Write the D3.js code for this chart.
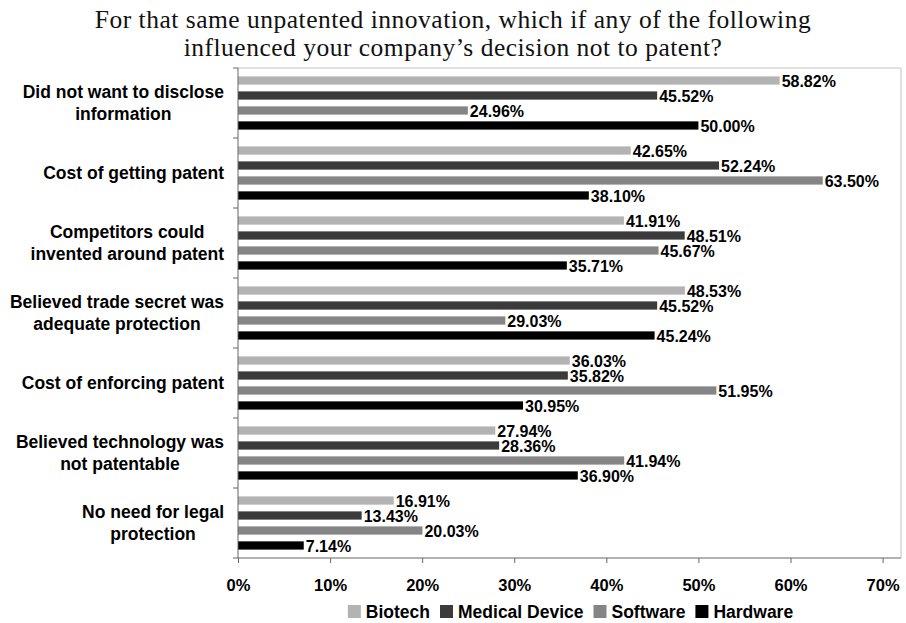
<!DOCTYPE html>
<html>
<head>
<meta charset="utf-8">
<script src="https://cdn.jsdelivr.net/npm/d3@7"></script>
<style>
  body { margin: 0; background: #fff; }
  svg { display: block; }
</style>
</head>
<body>
<svg id="chart" width="906" height="623"></svg>
<script>
// survey answers, % of respondents per industry
var categories = [
  "Did not want to disclose information",
  "Cost of getting patent",
  "Competitors could invented around patent",
  "Believed trade secret was adequate protection",
  "Cost of enforcing patent",
  "Believed technology was not patentable",
  "No need for legal protection"
];
var categoryLines = [
  ["Did not want to disclose", "information"],
  ["Cost of getting patent"],
  ["Competitors could", "invented around patent"],
  ["Believed trade secret was", "adequate protection"],
  ["Cost of enforcing patent"],
  ["Believed technology was", "not patentable"],
  ["No need for legal", "protection"]
];
var seriesNames = ["Biotech", "Medical Device", "Software", "Hardware"];
var biotech  = [58.82, 42.65, 41.91, 48.53, 36.03, 27.94, 16.91];
var medical  = [45.52, 52.24, 48.51, 45.52, 35.82, 28.36, 13.43];
var software = [24.96, 63.50, 45.67, 29.03, 51.95, 41.94, 20.03];
var hardware = [50.00, 38.10, 35.71, 45.24, 30.95, 36.90, 7.14];
var xTicks = [0, 10, 20, 30, 40, 50, 60, 70];
var titleLines = [
  "For that same unpatented innovation, which if any of the following",
  "influenced your company\u2019s decision not to patent?"
];

var seriesValues = [biotech, medical, software, hardware];
var colors = ["#b3b3b3", "#3b3b3b", "#858585", "#000000"];

var svg = d3.select("#chart");
var plotLeft = 238, plotRight = 901, plotTop = 68, plotBottom = 558;
var sans = "'Liberation Sans', Arial, sans-serif";

var x = d3.scaleLinear().domain([0, 72]).range([plotLeft, plotRight]);
var y0 = d3.scaleBand().domain(categories).range([plotTop, plotBottom])
  .paddingInner(0.24).paddingOuter(0.12);
var y1 = d3.scaleBand().domain(seriesNames).range([0, y0.bandwidth()])
  .paddingInner(0.45).paddingOuter(0);

// title
svg.append("g").selectAll("text")
  .data(titleLines)
  .enter().append("text")
  .attr("x", 453)
  .attr("y", function(d, i) { return 28 + i * 28; })
  .attr("text-anchor", "middle")
  .style("font-family", "'Liberation Serif', 'DejaVu Serif', serif")
  .style("font-size", "25.5px")
  .style("letter-spacing", "0.5px")
  .style("fill", "#111")
  .text(function(d) { return d; });

// plot frame (top + right light)
svg.append("path")
  .attr("d", "M" + plotLeft + "," + plotTop + "H" + plotRight + "V" + plotBottom)
  .attr("fill", "none")
  .attr("stroke", "#c4c4c4")
  .attr("stroke-width", 1);

// bars
var rows = [];
categories.forEach(function(c, ci) {
  seriesNames.forEach(function(s, si) {
    rows.push({ cat: c, series: s, si: si, value: seriesValues[si][ci] });
  });
});

var bars = svg.append("g").attr("class", "bars");
bars.selectAll("rect")
  .data(rows)
  .enter().append("rect")
  .attr("x", x(0))
  .attr("y", function(d) { return y0(d.cat) + y1(d.series); })
  .attr("width", function(d) { return x(d.value) - x(0); })
  .attr("height", y1.bandwidth())
  .attr("fill", function(d) { return colors[d.si]; });

bars.selectAll("text")
  .data(rows)
  .enter().append("text")
  .attr("x", function(d) { return x(d.value) + 2; })
  .attr("y", function(d) { return y0(d.cat) + y1(d.series) + y1.bandwidth() / 2 + 1; })
  .attr("dy", "0.36em")
  .style("font-family", sans)
  .style("font-weight", "bold")
  .style("font-size", "16px")
  .style("fill", "#000")
  .text(function(d) { return d.value.toFixed(2) + "%"; });

// left axis with ticks at category boundaries
var leftAxis = svg.append("g").attr("class", "y-axis");
leftAxis.append("line")
  .attr("x1", plotLeft).attr("x2", plotLeft)
  .attr("y1", plotTop).attr("y2", plotBottom)
  .attr("stroke", "#666");
leftAxis.selectAll("line.tick")
  .data(d3.range(categories.length + 1))
  .enter().append("line")
  .attr("class", "tick")
  .attr("x1", plotLeft - 5).attr("x2", plotLeft)
  .attr("y1", function(i) { return y0.range()[0] + i * y0.step(); })
  .attr("y2", function(i) { return y0.range()[0] + i * y0.step(); })
  .attr("stroke", "#666");

// category labels: lines centered, block right aligned
var labelRight = 224;
categories.forEach(function(c, ci) {
  var lines = categoryLines[ci];
  var cy = y0(c) + y0.bandwidth() / 2;
  var g = svg.append("g");
  var texts = g.selectAll("text")
    .data(lines)
    .enter().append("text")
    .attr("y", function(d, i) { return cy + (i - (lines.length - 1) / 2) * 22; })
    .attr("dy", "0.36em")
    .attr("text-anchor", "middle")
    .style("font-family", sans)
    .style("font-weight", "bold")
    .style("font-size", "17.5px")
    .style("fill", "#000")
    .text(function(d) { return d; });
  var w = d3.max(texts.nodes(), function(n) { return n.getComputedTextLength(); });
  texts.attr("x", labelRight - w / 2);
});

// bottom axis
var xAxis = d3.axisBottom(x)
  .tickValues(xTicks)
  .tickFormat(function(d) { return d + "%"; })
  .tickSize(5)
  .tickPadding(16);
var xg = svg.append("g")
  .attr("transform", "translate(0," + plotBottom + ")")
  .call(xAxis);
xg.select(".domain").remove();
xg.append("line")
  .attr("x1", plotLeft).attr("x2", plotRight)
  .attr("stroke", "#666");
xg.selectAll(".tick line").attr("stroke", "#666");
xg.selectAll(".tick text")
  .style("font-family", sans)
  .style("font-weight", "bold")
  .style("font-size", "16.5px")
  .style("fill", "#000");

// legend
var legend = svg.append("g").attr("class", "legend");
var items = legend.selectAll("g")
  .data(seriesNames)
  .enter().append("g");
items.append("rect")
  .attr("width", 13).attr("height", 13)
  .attr("y", -7)
  .attr("fill", function(d, i) { return colors[i]; });
items.append("text")
  .attr("x", 18)
  .attr("dy", "0.36em")
  .style("font-family", sans)
  .style("font-weight", "bold")
  .style("font-size", "17.5px")
  .style("fill", "#000")
  .text(function(d) { return d; });
var offset = 0;
var widths = [];
items.each(function(d) {
  var w = 18 + d3.select(this).select("text").node().getComputedTextLength();
  widths.push(w);
});
var total = d3.sum(widths) + 10 * (widths.length - 1);
var startX = 570.5 - total / 2;
items.attr("transform", function(d, i) {
  var tx = startX + offset;
  offset += widths[i] + 10;
  return "translate(" + tx + ",612)";
});
</script>
</body>
</html>
